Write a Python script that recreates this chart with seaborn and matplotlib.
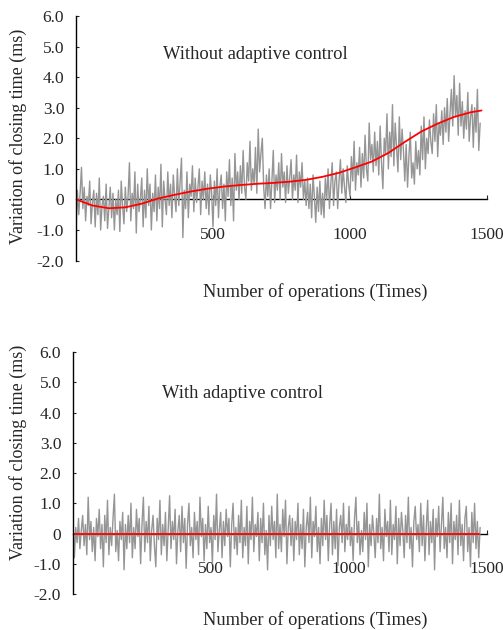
import numpy as np
import pandas as pd
import seaborn as sns
import matplotlib.pyplot as plt

sns.set_style('ticks')
plt.rcParams['font.family'] = ['Liberation Serif', 'DejaVu Serif']

step = 5
without_vals = [
    -1.0, 0.3, -0.5, 0.2, 1.05, -0.3, 0.4, -0.7, 0.1, -0.2,
    0.6, -0.8, -0.1, 0.3, -0.9, 0.2, -0.5, 0.7, -1.0, -0.2,
    0.1, -0.7, 0.5, -0.95, -0.3, 0.4, -0.6, 0.2, -1.0, 0.0,
    -0.5, 0.3, -1.05, 0.6, -0.2, -0.8, 0.4, -0.4, 0.1, 1.2,
    -0.7, 0.2, -0.3, 0.9, -1.1, 0.5, -0.4, 0.0, 0.7, -0.9,
    0.3, -0.6, 1.0, -0.2, 0.5, -1.0, 0.2, -0.4, 0.8, -0.7,
    0.4, -0.3, 1.15, -0.9, 0.6, 0.0, -0.5, 0.9, -0.2, 0.5,
    -0.6, 0.8, 0.1, -0.4, 1.0, -0.2, 0.6, 1.35, -1.25, 0.3,
    -0.3, 0.9, -0.6, 0.5, 0.1, 1.1, -0.4, 0.7, -0.1, 0.4,
    1.0, -0.5, 0.6, 0.0, 0.9, -0.3, 0.5, -0.5, 0.8, 0.2,
    -0.9, 0.6, -0.2, 1.0, -0.6, 0.4, 0.8, -0.3, 0.5, -0.7,
    0.9, 0.1, 1.3, -0.2, 0.7, -0.7, 1.5, 0.3, 0.9, 0.0,
    1.1, 0.2, 1.6, 0.4, 0.0, 1.2, 0.6, 1.9, 0.3, 1.0,
    0.5, 1.7, 0.2, 2.3, 0.9, 1.5, 2.0, 0.4, -0.3, 0.8,
    0.1, 1.0, -0.3, 0.6, 1.6, -0.1, 0.8, 0.3, 1.2, 0.0,
    1.5, 0.4, 0.9, -0.1, 1.1, 0.2, 0.7, 1.3, 0.0, 0.8,
    0.3, 1.45, -0.1, 0.9, 0.4, 1.2, 0.0, 0.6, -0.2, 0.7,
    -0.3, 0.5, -0.6, 0.8, 0.1, -0.75, 0.4, -0.4, 0.6, -0.5,
    0.2, -0.6, 0.7, 0.0, 1.0, -0.3, 0.5, 1.2, -0.2, 0.6,
    0.9, -0.3, 0.6, 1.3, 0.2, 1.0, 0.4, -0.1, 1.1, 0.5,
    0.1, 1.4, 0.6, 1.9, 0.3, 1.2, 0.8, 1.7, 0.4, 1.5,
    0.7, 2.1, 1.0, 0.6, 2.5, 1.3, 1.8, 0.9, 2.2, 1.1,
    1.9, 0.8, 2.4, 1.2, 0.35, 2.0, 1.5, 2.8, 1.0, 2.2,
    1.4, 3.1, 1.1, 2.5, 1.7, 0.9, 2.7, 1.3, 2.3, 1.6,
    0.6, 1.8, 0.4, 1.4, 2.2, 0.7, 1.2, 0.5, 1.9, 1.0,
    1.6, 0.8, 2.4, 1.3, 2.7, 1.0, 2.0, 1.5, 2.6, 1.9,
    1.5, 2.8, 1.9, 3.1, 1.4, 2.5, 2.1, 2.9, 1.8, 3.0,
    2.2, 3.3, 1.9, 2.8, 3.6, 2.4, 4.05, 2.7, 3.4, 2.1,
    3.8, 2.4, 3.2, 2.0, 2.9, 2.3, 3.5, 1.9, 2.7, 3.1,
    1.7, 3.0, 2.2, 3.6, 1.6, 2.5,
]
with_vals = [
    0.4, -0.8, 0.2, -0.3, 0.5, -0.5, 0.1, 0.6, -0.4, 0.3,
    -0.7, 1.2, -0.2, 0.4, -0.6, 0.2, -0.9, 0.5, -0.1, 0.8,
    -0.5, 0.3, -1.1, 0.6, -0.3, 1.1, -0.7, 0.2, -0.4, 0.5,
    1.3, -0.6, 0.1, -0.9, 0.4, -0.2, 0.7, -1.2, 0.3, -0.5,
    0.6, -0.3, 1.0, -0.8, 0.2, -0.5, 0.8, -0.1, 0.5, -1.0,
    0.3, 1.2, -0.6, 0.4, -0.3, 0.9, -0.9, 0.1, 0.6, -0.4,
    -1.1, 0.5, -0.2, 1.1, -0.7, 0.3, -0.4, 0.7, -0.9, 0.2,
    1.25, -0.5, 0.4, -0.2, 0.8, -1.0, 0.1, 0.6, -0.6, 0.9,
    -0.3, 0.5, -1.15, 0.3, 1.0, -0.4, 0.2, -0.8, 0.7, -0.2,
    0.4, -0.7, 1.2, -0.1, 0.5, -0.9, 0.3, -0.5, 0.9, -0.3,
    0.2, -1.0, 0.6, -0.2, 1.3, -0.6, 0.1, 0.7, -0.8, 0.4,
    -0.4, 0.8, -0.1, 0.5, -1.1, 0.3, 1.0, -0.5, 0.2, -0.7,
    0.6, -0.3, 1.1, -0.8, 0.2, -0.4, 0.9, -1.0, 0.4, -0.2,
    1.2, -0.6, 0.3, -0.1, 0.7, -0.9, 0.5, -0.3, 1.0, -0.7,
    0.1, -1.2, 0.6, -0.4, 0.9, -0.2, 0.4, -0.8, 1.3, -0.5,
    0.3, -0.6, 0.8, -0.1, 1.1, -1.0, 0.2, 0.6, -0.4, 0.5,
    -0.9, 0.4, -0.2, 1.0, -0.7, 0.3, -0.5, 0.8, -1.1, 0.2,
    0.7, -0.3, 1.2, -0.8, 0.4, -0.1, 0.9, -0.6, 0.2, -1.0,
    0.5, -0.4, 1.1, -0.2, 0.6, -0.9, 0.3, 1.0, -0.7, 0.4,
    -0.5, 0.8, -1.05, 0.2, 0.6, -0.3, 1.0, -0.6, 0.3, -0.2,
    0.9, -0.4, 0.2, -0.9, 0.5, 1.2, -0.3, 0.4, -0.7, 0.1,
    -0.6, 0.7, -0.2, 1.0, -1.1, 0.3, -0.4, 0.6, 0.0, -0.8,
    0.5, -0.3, 1.3, -0.5, 0.2, -0.9, 0.8, -0.1, 0.4, -0.6,
    1.1, -0.7, 0.3, -0.2, 0.9, -1.0, 0.5, -0.4, 0.7, 0.1,
    -0.8, 0.6, -0.3, 1.2, -0.5, 0.2, -1.1, 0.4, 0.9, -0.2,
    0.3, -0.6, 1.0, -0.4, 0.6, -0.9, 0.2, 1.1, -0.7, 0.4,
    -0.3, 0.8, -1.2, 0.5, -0.1, 0.9, -0.6, 0.3, 1.2, -0.5,
    0.2, -0.8, 0.7, -0.3, 1.0, -1.0, 0.4, -0.2, 0.6, -0.7,
    1.1, -0.4, 0.3, -0.9, 0.5, 0.9, -0.6, 0.2, -1.1, 0.7,
    -0.3, 1.0, -0.5, 0.4, -0.8, 0.2,
]

# fitted trend (red curves)
trend_ops = [0, 60, 120, 180, 240, 300, 360, 420, 480, 540, 600, 660, 720,
             780, 840, 900, 960, 1020, 1080, 1140, 1200, 1260, 1320, 1380,
             1440, 1480]
trend_without = [0.0, -0.2, -0.29, -0.26, -0.14, 0.03, 0.15, 0.26, 0.35, 0.42,
                 0.47, 0.51, 0.54, 0.58, 0.64, 0.74, 0.87, 1.05, 1.24, 1.52,
                 1.88, 2.22, 2.48, 2.70, 2.85, 2.91]
trend_with_ops = [0, 1472]
trend_with = [-0.03, -0.03]

yticks = [-2, -1, 0, 1, 2, 3, 4, 5, 6]
ytick_labels = ['-2.0', '-1.0', '0', '1.0', '2.0', '3.0', '4.0', '5.0', '6.0']
xticks = [500, 1000, 1500]
xtick_labels = ['500', '1000', '1500']

panels = [
    ('Without adaptive control', without_vals, trend_ops, trend_without,
     [76 / 503, 0.5865, 411 / 503, 0.388], (318, 4.74),
     (0.5815, -0.129), (-0.141, 0.509)),
    ('With adaptive control', with_vals, trend_with_ops, trend_with,
     [73 / 503, 0.0571, 414 / 503, 0.3841], (322, 4.62),
     (0.585, -0.107), (-0.133, 0.587)),
]

fig = plt.figure(figsize=(5.03, 6.3), dpi=100)

for title, vals, t_ops, t_vals, pos, txt_xy, xl_xy, yl_xy in panels:
    ax = fig.add_axes(pos)
    df = pd.DataFrame({'ops': np.arange(len(vals)) * step, 'val': vals})
    tr = pd.DataFrame({'ops': t_ops, 'val': t_vals})
    sns.lineplot(data=df, x='ops', y='val', ax=ax, color='#959595', lw=1.0)
    sns.lineplot(data=tr, x='ops', y='val', ax=ax, color='#ff0000', lw=1.3)

    ax.set_xlim(0, 1500)
    ax.set_ylim(-2, 6)
    ax.spines['top'].set_visible(False)
    ax.spines['right'].set_visible(False)
    ax.spines['bottom'].set_position(('data', 0))
    ax.spines['bottom'].set_zorder(0)
    for s in ('left', 'bottom'):
        ax.spines[s].set_color('black')
        ax.spines[s].set_linewidth(1.0)

    ax.set_yticks(yticks)
    ax.set_yticklabels(ytick_labels)
    ax.set_xticks(xticks)
    ax.set_xticklabels(xtick_labels)
    ax.tick_params(axis='y', direction='in', length=2, pad=8.5, labelsize=12.5)
    ax.tick_params(axis='x', direction='in', length=3, pad=20, labelsize=12.5)

    ax.set_xlabel('Number of operations (Times)', fontsize=13.2, va='center')
    ax.set_ylabel('Variation of closing time (ms)', fontsize=13, va='center')
    ax.xaxis.set_label_coords(*xl_xy)
    ax.yaxis.set_label_coords(*yl_xy)

    ax.text(txt_xy[0], txt_xy[1], title, fontsize=13.3, ha='left', va='center')

fig.savefig('out.png', dpi=100)
